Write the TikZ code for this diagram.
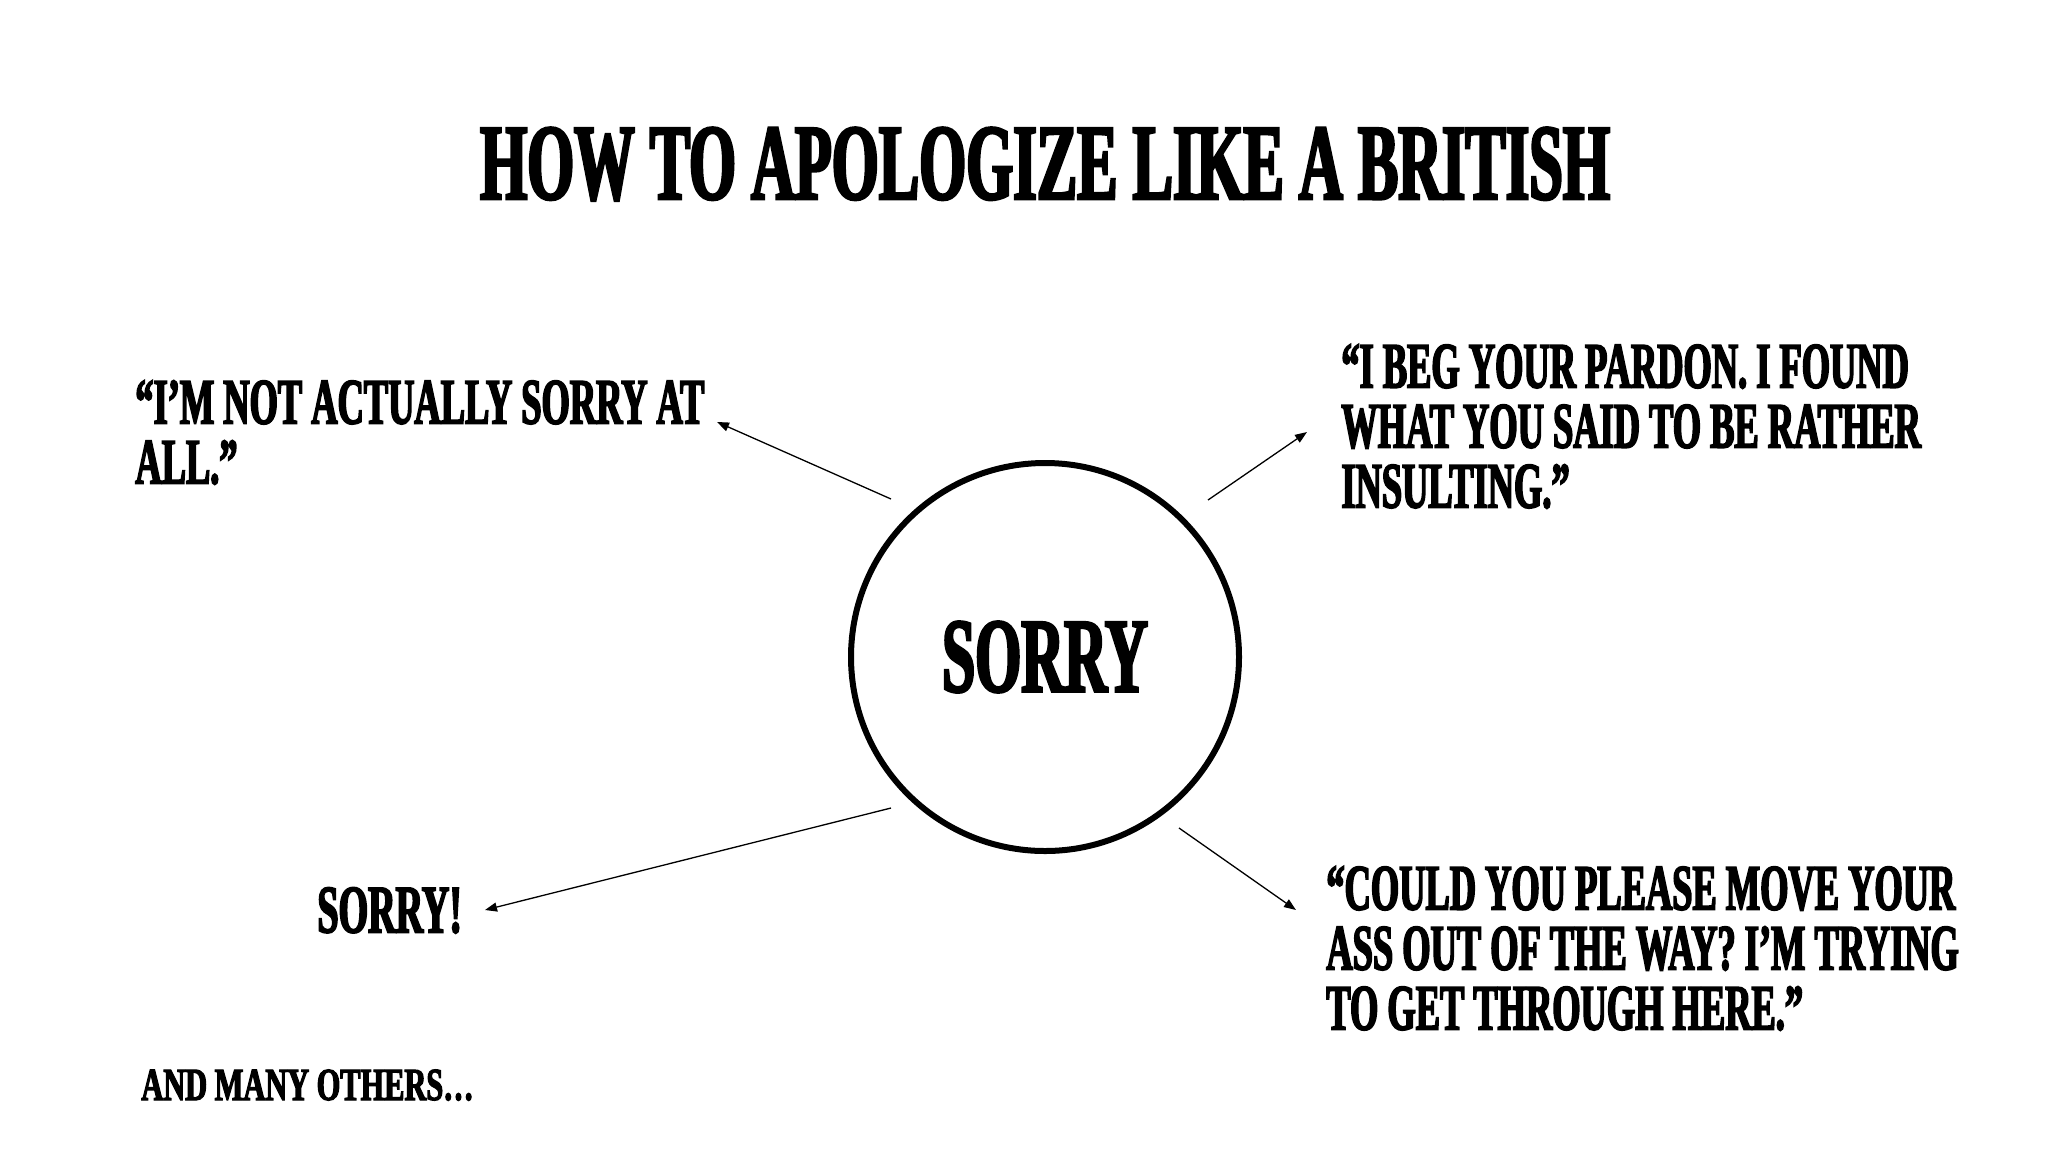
\documentclass[tikz,border=0pt]{standalone}
\usepackage{fontspec}
\newfontfamily\britfont[FakeStretch=0.56,FakeBold=2.5]{Liberation Serif}
\newfontfamily\widebritfont[FakeStretch=0.66,FakeBold=2.5]{Liberation Serif}
\usetikzlibrary{arrows.meta}

\begin{document}
\begin{tikzpicture}[x=0.5pt,y=-0.5pt,
  quote/.style={anchor=north west,inner sep=0pt,align=left,
    font=\britfont\bfseries\fontsize{32.5}{30}\selectfont},
  arr/.style={-{Triangle[length=6pt,width=4.5pt]},line width=0.65pt}]
\fill[white] (0,0) rectangle (2048,1152);
\useasboundingbox (0,0) rectangle (2048,1152);
\node[anchor=base,inner sep=0pt,font=\britfont\bfseries\fontsize{54}{60}\selectfont] (title) at (1045,199) {HOW TO APOLOGIZE LIKE A BRITISH};
\node[circle,draw,line width=3pt,minimum size=194pt,inner sep=0pt,
  font=\britfont\bfseries\fontsize{53}{58}\selectfont] (sorry) at (1045,657) {SORRY};
\node[quote] (q-tl) at (135,380) {“I’M NOT ACTUALLY SORRY AT\\ALL.”};
\node[quote] (q-tr) at (1341,344) {“I BEG YOUR PARDON. I FOUND\\WHAT YOU SAID TO BE RATHER\\INSULTING.”};
\node[quote] (q-br) at (1326,866) {“COULD YOU PLEASE MOVE YOUR\\ASS OUT OF THE WAY? I’M TRYING\\TO GET THROUGH HERE.”};
\node[quote,font=\britfont\bfseries\fontsize{34}{38}\selectfont] (q-bl) at (317,887) {SORRY!};
\node[anchor=base west,inner sep=0pt,font=\widebritfont\bfseries\fontsize{23}{26}\selectfont] (others) at (141,1100) {AND MANY OTHERS\dots};
% arrow ends
\coordinate (a-tl) at (891,499); \coordinate (t-tl) at (717,422);
\coordinate (a-tr) at (1208,500); \coordinate (t-tr) at (1307,432);
\coordinate (a-bl) at (891,808); \coordinate (t-bl) at (485,910);
\coordinate (a-br) at (1179,828); \coordinate (t-br) at (1296,910);
\draw[arr] (a-tl) -- (t-tl);
\draw[arr] (a-tr) -- (t-tr);
\draw[arr] (a-bl) -- (t-bl);
\draw[arr] (a-br) -- (t-br);
\end{tikzpicture}
\end{document}
